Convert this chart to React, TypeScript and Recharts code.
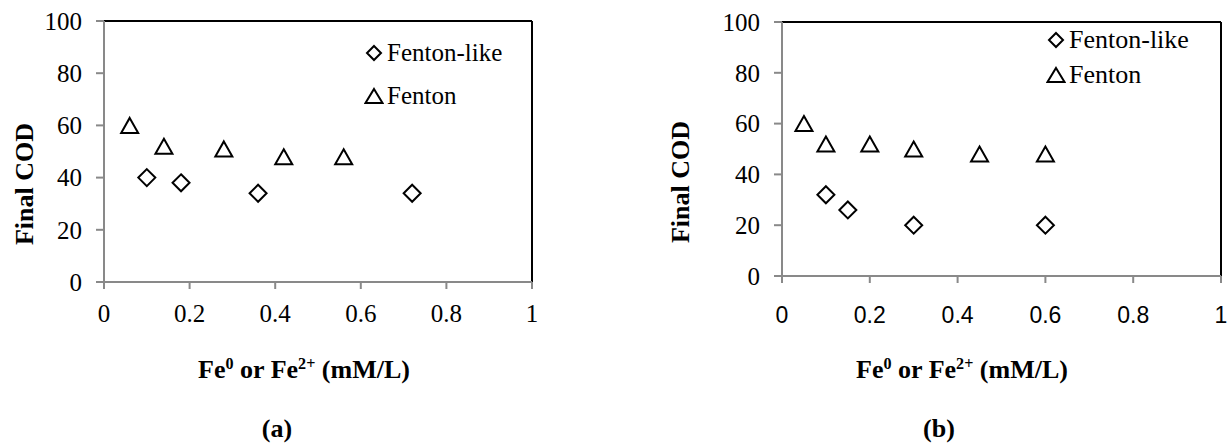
import React from "react";
import { ScatterChart, Scatter, XAxis, YAxis, ReferenceLine, Legend } from "recharts";

// tick values shared by both panels
const xTicks = [0, 0.2, 0.4, 0.6, 0.8, 1];
const yTicks = [0, 20, 40, 60, 80, 100];

// panel (a)
const aLikeX = [0.1, 0.18, 0.36, 0.72];
const aLikeY = [40, 38, 34, 34];
const aFentonX = [0.06, 0.14, 0.28, 0.42, 0.56];
const aFentonY = [60, 52, 51, 48, 48];

// panel (b)
const bLikeX = [0.1, 0.15, 0.3, 0.6];
const bLikeY = [32, 26, 20, 20];
const bFentonX = [0.05, 0.1, 0.2, 0.3, 0.45, 0.6];
const bFentonY = [60, 52, 52, 50, 48, 48];

const seriesNames = ["Fenton-like", "Fenton"];

const zip = (xs: number[], ys: number[]) => xs.map((x, i) => ({ x, y: ys[i] }));

const SERIF = "Liberation Serif";
const SANS = "Liberation Sans";
const AXIS = "#898989";

function Diamond({ cx, cy, r = 8 }: { cx: number; cy: number; r?: number }) {
	return (
		<path d={`M${cx},${cy - r}L${cx + r},${cy}L${cx},${cy + r}L${cx - r},${cy}Z`} fill="#fff" stroke="#000" strokeWidth={2} />
	);
}

function Triangle({ cx, cy, w = 17, h = 15 }: { cx: number; cy: number; w?: number; h?: number }) {
	return (
		<path d={`M${cx},${cy - h / 2}L${cx + w / 2},${cy + h / 2}L${cx - w / 2},${cy + h / 2}Z`} fill="#fff" stroke="#000" strokeWidth={2} />
	);
}

function LegendBox({ rowH, fontSize }: { rowH: number; fontSize: number }) {
	return (
		<div style={{ fontFamily: SERIF, fontSize, color: "#000" }}>
			{seriesNames.map((n, i) => (
				<div key={n} style={{ height: rowH, display: "flex", alignItems: "center", whiteSpace: "nowrap" }}>
					<svg width={20} height={20} style={{ marginRight: 3 }}>
						{i === 0 ? <Diamond cx={10} cy={10} r={7} /> : <Triangle cx={10} cy={10} w={17} h={14} />}
					</svg>
					<span>{n}</span>
				</div>
			))}
		</div>
	);
}

type PanelProps = {
	left: number;
	width: number;
	yAxisW: number;
	margin: { top: number; right: number; bottom: number; left: number };
	like: { x: number; y: number }[];
	fenton: { x: number; y: number }[];
	xTickFont: string;
	xTickSize: number;
	xTickMargin: number;
	legendPos: { left: number; top: number };
	legendRow: number;
	legendFont: number;
};

function Panel(p: PanelProps) {
	return (
		<div style={{ position: "absolute", left: p.left, top: 0 }}>
			<ScatterChart width={p.width} height={444} margin={p.margin}>
				<XAxis
					type="number"
					dataKey="x"
					domain={[0, 1]}
					ticks={xTicks}
					height={40}
					stroke={AXIS}
					strokeWidth={2}
					tickSize={7}
					tickMargin={p.xTickMargin}
					tickLine={{ stroke: AXIS, strokeWidth: 2 }}
					tick={{ fill: "#000", fontFamily: p.xTickFont, fontSize: p.xTickSize }}
					tickFormatter={(v: number) => String(v)}
					allowDataOverflow
				/>
				<YAxis
					type="number"
					dataKey="y"
					domain={[0, 100]}
					ticks={yTicks}
					width={p.yAxisW}
					stroke={AXIS}
					strokeWidth={2}
					tickSize={8}
					tickMargin={14}
					tickLine={{ stroke: AXIS, strokeWidth: 2 }}
					tick={{ fill: "#000", fontFamily: SERIF, fontSize: 25 }}
				/>
				<ReferenceLine y={100} stroke="#000" strokeWidth={2} />
				<ReferenceLine x={1} stroke="#000" strokeWidth={2} />
				<Legend
					layout="vertical"
					align="center"
					verticalAlign="middle"
					wrapperStyle={{ left: p.legendPos.left, top: p.legendPos.top, width: "auto" }}
					content={() => <LegendBox rowH={p.legendRow} fontSize={p.legendFont} />}
				/>
				<Scatter
					name={seriesNames[0]}
					data={p.like}
					isAnimationActive={false}
					shape={(s: any) => <Diamond cx={s.cx} cy={s.cy} r={8.5} />}
				/>
				<Scatter
					name={seriesNames[1]}
					data={p.fenton}
					isAnimationActive={false}
					shape={(s: any) => <Triangle cx={s.cx} cy={s.cy} />}
				/>
			</ScatterChart>
		</div>
	);
}

const titleStyle: React.CSSProperties = {
	position: "absolute",
	fontFamily: SERIF,
	fontWeight: "bold",
	fontSize: 26,
	lineHeight: "26px",
	textAlign: "center",
	whiteSpace: "nowrap",
	color: "#000",
};

function XTitle({ cx, cy }: { cx: number; cy: number }) {
	const sup: React.CSSProperties = { fontSize: "0.62em", lineHeight: 0, verticalAlign: "0.55em" };
	return (
		<div style={{ ...titleStyle, left: cx - 200, width: 400, top: cy - 13 }}>
			Fe<span style={sup}>0</span> or Fe<span style={sup}>2+</span> (mM/L)
		</div>
	);
}

function YTitle({ cx, cy }: { cx: number; cy: number }) {
	return (
		<div style={{ ...titleStyle, left: cx - 100, width: 200, top: cy - 13, transform: "rotate(-90deg)" }}>
			Final COD
		</div>
	);
}

function Caption({ cx, cy, text }: { cx: number; cy: number; text: string }) {
	return <div style={{ ...titleStyle, left: cx - 40, width: 80, top: cy - 13 }}>{text}</div>;
}

export default function App() {
	return (
		<div style={{ position: "absolute", left: 0, top: 0, width: 1228, height: 444, background: "#fff", overflow: "hidden" }}>
			<Panel
				left={0}
				width={560}
				yAxisW={104}
				margin={{ top: 21, right: 28, bottom: 122, left: 0 }}
				like={zip(aLikeX, aLikeY)}
				fenton={zip(aFentonX, aFentonY)}
				xTickFont={SERIF}
				xTickSize={25}
				xTickMargin={15}
				legendPos={{ left: 364, top: 31 }}
				legendRow={43}
				legendFont={25}
			/>
			<Panel
				left={600}
				width={628}
				yAxisW={182}
				margin={{ top: 22, right: 7, bottom: 128, left: 0 }}
				like={zip(bLikeX, bLikeY)}
				fenton={zip(bFentonX, bFentonY)}
				xTickFont={SANS}
				xTickSize={23}
				xTickMargin={24}
				legendPos={{ left: 446, top: 22 }}
				legendRow={35}
				legendFont={26}
			/>
			<YTitle cx={25} cy={184} />
			<YTitle cx={681} cy={182} />
			<XTitle cx={304} cy={370} />
			<XTitle cx={962} cy={370} />
			<Caption cx={277} cy={429} text="(a)" />
			<Caption cx={939} cy={429} text="(b)" />
		</div>
	);
}
